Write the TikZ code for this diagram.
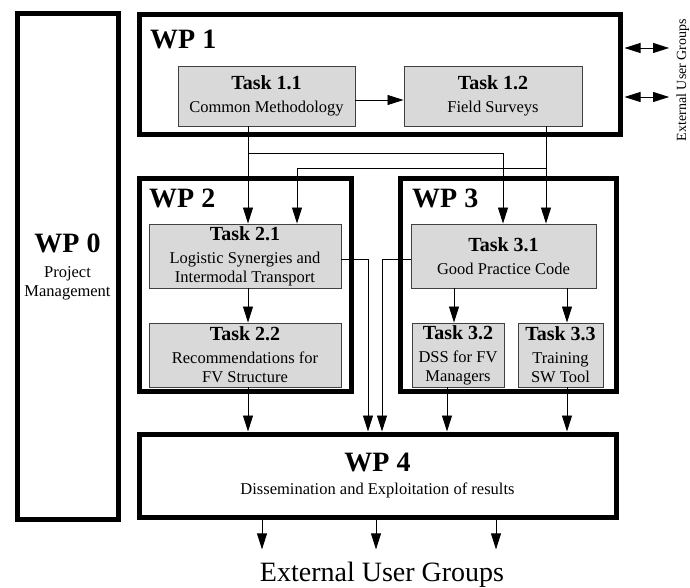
\documentclass[tikz,border=0pt]{standalone}
\usepackage{fontspec}
\setmainfont{Liberation Serif}
\usetikzlibrary{arrows.meta,positioning}

\newcommand{\taskhead}[1]{{\fontsize{20}{23}\selectfont\bfseries #1}\\[4pt]}
\newcommand{\wphead}[1]{{\fontsize{28}{32}\selectfont\bfseries #1}}

\begin{document}
\begin{tikzpicture}[x=1pt, y=-1pt,
    wp/.style={rectangle, draw, line width=5pt, inner sep=0pt, align=center, font=\fontsize{16.5}{19}\selectfont},
    task/.style={rectangle, draw=black!75, line width=0.9pt, fill=black!15, inner sep=0pt, align=center, font=\fontsize{16.5}{19}\selectfont},
    wplabel/.style={anchor=base west, inner sep=0pt, font=\fontsize{28}{32}\selectfont\bfseries},
    flow/.style={-{Triangle[length=16pt,width=10pt]}, line width=0.8pt},
    both/.style={{Triangle[length=16pt,width=10pt]}-{Triangle[length=16pt,width=10pt]}, line width=0.8pt}]
    \useasboundingbox (0,0) rectangle (690,588);

    % Work packages
    \node[wp, minimum width=101, minimum height=505] (wp0) at (67.5,266.5)
        {\wphead{WP 0}\\[6pt] Project\\ Management};
    \node[wp, minimum width=481, minimum height=120] (wp1) at (379.5,75) {};
    \node[wp, minimum width=212, minimum height=212] (wp2) at (245,285) {};
    \node[wp, minimum width=216, minimum height=212] (wp3) at (508,285) {};
    \node[wp, minimum width=477, minimum height=83] (wp4) at (377.5,475.5)
        {\wphead{WP 4}\\[4pt] Dissemination and Exploitation of results};

    \node[wplabel] (wp1label) at (150,49) {WP 1};
    \node[wplabel] (wp2label) at (149,207) {WP 2};
    \node[wplabel] (wp3label) at (412,207) {WP 3};

    % Tasks
    \node[task, minimum width=177, minimum height=60] (t11) at (266.5,96)
        {\taskhead{Task 1.1} Common Methodology};
    \node[task, minimum width=178, minimum height=60] (t12) at (493,96)
        {\taskhead{Task 1.2} Field Surveys};
    \node[task, minimum width=192, minimum height=64] (t21) at (245,256)
        {\taskhead{Task 2.1} Logistic Synergies and\\ Intermodal Transport};
    \node[task, minimum width=192, minimum height=64] (t22) at (245,355)
        {\taskhead{Task 2.2} Recommendations for\\ FV Structure};
    \node[task, minimum width=185, minimum height=64] (t31) at (503.5,256)
        {\taskhead{Task 3.1} Good Practice Code};
    \node[task, minimum width=92, minimum height=64] (t32) at (458,355)
        {\taskhead{Task 3.2} DSS for FV\\ Managers};
    \node[task, minimum width=85, minimum height=64] (t33) at (560.5,355)
        {\taskhead{Task 3.3} Training\\ SW Tool};

    % External users
    \node[anchor=base, inner sep=0pt, font=\fontsize{28}{32}\selectfont] (users) at (382,581) {External User Groups};
    \node[anchor=base, inner sep=0pt, rotate=90, font=\fontsize{14}{16}\selectfont] (ext) at (686,80) {External User Groups};

    % Branch points
    \coordinate (j1) at (248,153);
    \coordinate (j2) at (546,168);

    % Arrows inside WP 1 and out to the users
    \draw[flow] ([yshift=-4]t11.east) -- ([yshift=-4]t12.west);
    \draw[both, shorten <=2pt, shorten >=7pt] (wp1.east |- 0,48) -- (ext.north |- 0,48);
    \draw[both, shorten <=2pt, shorten >=7pt] (wp1.east |- 0,97) -- (ext.north |- 0,97);

    % WP 1 to WP 2 and WP 3
    \draw[flow] (t11.south -| 248,0) -- (t21.north -| 248,0);
    \draw[flow] (j1) -| (t31.north -| 503,0);
    \draw[flow] (t12.south -| 546,0) -- (t31.north -| 546,0);
    \draw[flow] (j2) -| (t21.north -| 297,0);

    % Inside WP 2 and WP 3
    \draw[flow] (t21.south -| 248,0) -- (t22.north -| 248,0);
    \draw[flow] (t31.south -| 454,0) -- (t32.north -| 454,0);
    \draw[flow] (t31.south -| 567,0) -- (t33.north -| 567,0);

    % Into WP 4
    \draw[flow] (t22.south -| 248,0) -- (wp4.north -| 248,0);
    \draw[flow] ([yshift=-3]t21.east) -| (wp4.north -| 368,0);
    \draw[flow] ([yshift=-3]t31.west) -| (wp4.north -| 382,0);
    \draw[flow] (t32.south -| 447,0) -- (wp4.north -| 447,0);
    \draw[flow] (t33.south -| 567,0) -- (wp4.north -| 567,0);

    % Out of WP 4
    \foreach \x in {262,376,496}
        \draw[flow, shorten >=12pt] (wp4.south -| \x,0) -- (users.north -| \x,0);
\end{tikzpicture}
\end{document}
